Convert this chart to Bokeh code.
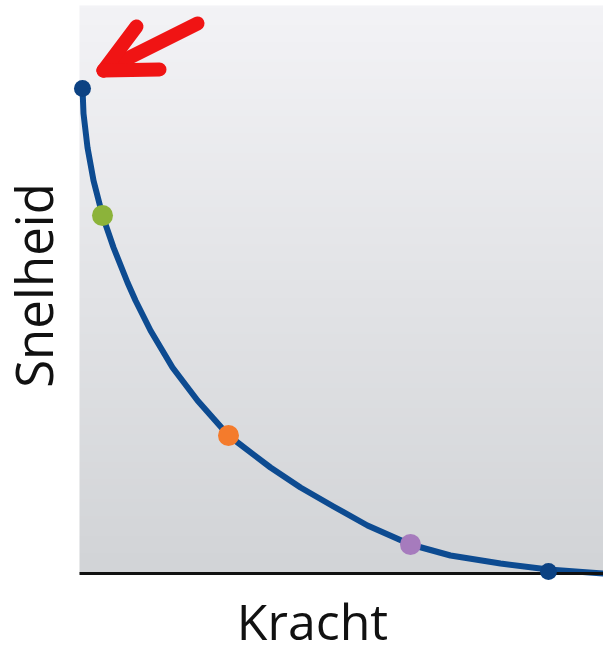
import numpy as np
from bokeh.plotting import figure
from bokeh.models import Label, Range1d
from bokeh.embed import file_html
from bokeh.resources import INLINE

# Force (Kracht) vs velocity (Snelheid) curve
curve_force = [3, 4, 8, 14, 23, 34, 48, 56, 71, 93, 118, 149, 191, 221, 254, 288, 331, 371, 421, 469, 524]
curve_speed = [485, 460, 426, 393, 358, 326, 291, 273, 243, 206, 173, 138, 106, 86, 67, 48, 29, 18, 10, 4, 0]

dot_force = [3, 23, 149, 331, 469]
dot_speed = [485, 358, 138, 29, 2]
dot_colors = ["#0c4283", "#8cb33a", "#f47b2c", "#a67bbd", "#0c4283"]
dot_sizes = [17, 21, 21, 21, 17]

# red arrow: shaft and two arms, each from tip outward
arrow_xs = [[24, 118], [24, 57], [24, 80]]
arrow_ys = [[503, 550], [503, 547], [503, 504]]

# bottom axis line and panel extent
axis_x = [0, 524]
axis_y = [0, 0]
panel_w = 524
panel_h = 568

x_label = "Kracht"
y_label = "Snelheid"

p = figure(width=603, height=647, output_backend="svg", toolbar_location=None,
           x_axis_type=None, y_axis_type=None,
           x_range=Range1d(-79, 524), y_range=Range1d(-74, 573),
           min_border_left=0, min_border_right=0, min_border_top=0, min_border_bottom=0)
p.outline_line_color = None
p.grid.visible = False
p.background_fill_color = "white"
p.border_fill_color = "white"

# vertical grey gradient background
N = 200
img = np.empty((N, 2), dtype=np.uint32)
view = img.view(dtype=np.uint8).reshape((N, 2, 4))
bottom = np.array([210, 212, 215])
top = np.array([243, 243, 246])
for i in range(N):
    t = i / (N - 1)
    c = bottom + (top - bottom) * t
    view[i, :, 0] = int(c[0])
    view[i, :, 1] = int(c[1])
    view[i, :, 2] = int(c[2])
    view[i, :, 3] = 255
p.image_rgba(image=[img], x=0, y=0, dw=panel_w, dh=panel_h)

p.line(curve_force, curve_speed, line_color="#0d4b91", line_width=6, line_cap="round", line_join="round")
p.line(axis_x, axis_y, line_color="#111111", line_width=3)
p.scatter(dot_force, dot_speed, size=dot_sizes, fill_color=dot_colors, line_color=None)

p.multi_line(arrow_xs, arrow_ys, line_color="#f01414", line_width=14, line_cap="round", line_join="round")

p.add_layout(Label(x=233, y=-47, text=x_label, text_font="Open Sans", text_font_size="50px",
                   text_color="#111111", text_align="center", text_baseline="alphabetic"))
p.add_layout(Label(x=-47, y=288, text=y_label, text_font="Open Sans", text_font_size="51px",
                   text_color="#111111", text_align="center", text_baseline="alphabetic",
                   angle=np.pi / 2))

open("out.html", "w").write(file_html(p, INLINE))
